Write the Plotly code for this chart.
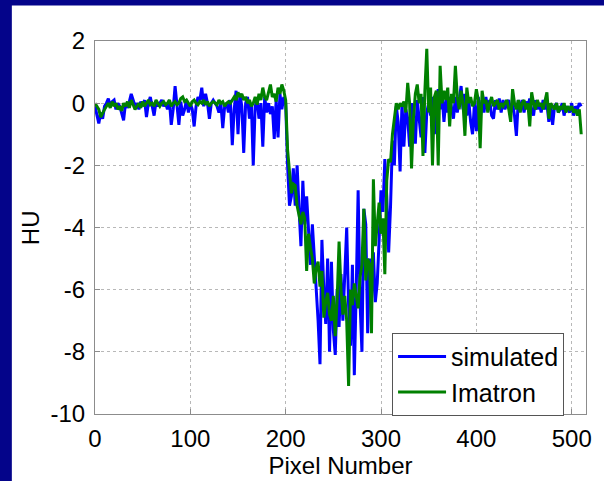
import plotly.graph_objects as go

# Pixel positions along the profile (every second pixel)
pixel = list(range(0, 512, 2))

# HU profile from the simulated reconstruction
simulated = [
    -0.1, -0.4, -0.65, -0.3, -0.5, -0.1, 0.0, 0.15, -0.1, 0.05,
    0.1, -0.2, 0.0, -0.1, -0.3, -0.55, 0.0, -0.15, 0.05, 0.3,
    0.1, -0.1, 0.0, -0.2, 0.05, -0.1, 0.1, -0.45, 0.0, 0.2,
    -0.1, -0.4, 0.05, -0.1, 0.0, 0.1, -0.1, 0.0, -0.2, 0.1,
    -0.7, -0.2, 0.55, -0.1, -0.7, 0.05, -0.4, -0.2, 0.1, -0.3,
    0.0, -0.2, -0.75, -0.1, 0.2, 0.1, 0.5, -0.1, 0.3, 0.0,
    -0.5, 0.0, 0.1, 0.0, -0.1, -0.3, 0.0, -0.8, -0.1, 0.0,
    -0.3, 0.1, -1.35, -0.2, 0.4, -1.0, 0.3, -0.1, -1.6, 0.0,
    0.2, -0.5, 0.0, -2.0, -0.1, 0.1, -0.5, 0.0, -1.4, 0.2,
    -0.3, 0.0, -0.35, -0.1, -1.15, 0.1, -1.1, 0.3, -0.2, 0.2,
    0.0, -2.0, -3.3, -3.0, -2.1, -3.3, -2.0, -3.4, -4.6, -2.5,
    -3.9, -3.0, -4.3, -5.2, -3.9, -5.0, -5.7, -7.0, -8.4, -4.4,
    -6.0, -7.1, -5.0, -8.0, -5.1, -7.3, -8.1, -6.0, -7.2, -5.5,
    -7.0, -5.6, -4.0, -6.5, -7.8, -5.2, -8.75, -6.0, -2.8, -6.4,
    -8.0, -3.4, -3.9, -7.4, -5.0, -6.3, -4.8, -6.4, -5.8, -4.4,
    -2.8, -3.5, -1.8, -3.0, -4.8, -3.3, -1.2, -2.0, -0.1, -0.6,
    -2.2, 0.0, -1.4, -0.2, -0.5, -1.4, 0.0, -0.7, -1.3, 0.1,
    -0.5, -1.1, 0.2, -1.6, -0.3, 0.0, -0.4, 0.2, -1.0, 0.1,
    0.45, -0.2, 0.3, -0.6, 0.1, -0.3, 0.2, -0.2, -0.5, 0.2,
    -0.3, 0.1, 0.55, -0.2, 0.3, -0.4, 0.1, -0.6, -1.0, 0.0,
    -0.9, 0.2, -0.5, 0.1, -0.3, 0.2, -0.2, 0.1, -0.4, -0.5,
    0.1, -0.2, 0.15, -0.3, 0.1, -0.2, 0.0, 0.1, -0.3, 0.0,
    -0.4, -1.05, 0.1, -0.2, 0.1, -0.3, 0.05, -0.1, 0.15, -0.2,
    -0.4, 0.1, -0.2, 0.0, -0.3, 0.1, -0.2, 0.0, -0.6, -0.1,
    -0.7, -0.1, 0.0, -0.3, -0.2, 0.0, -0.4, -0.1, -0.2, -0.3,
    0.0, -0.4, -0.1, -0.2, 0.0, -0.1,
]

# HU profile measured on the Imatron scanner
imatron = [
    0.0, -0.1, -0.2, -0.45, -0.3, -0.2, -0.1, 0.0, -0.15, 0.05,
    -0.1, 0.0, -0.2, -0.1, -0.25, 0.0, -0.1, 0.05, -0.15, 0.1,
    -0.05, -0.2, -0.1, 0.0, -0.15, 0.05, -0.1, 0.0, 0.1, -0.05,
    0.0, -0.1, 0.1, 0.0, -0.1, 0.0, 0.05, -0.05, 0.0, 0.1,
    -0.1, 0.0, 0.05, -0.05, 0.0, 0.15, 0.2, 0.05, 0.1, 0.0,
    -0.1, 0.05, 0.1, 0.0, -0.05, 0.05, 0.0, 0.1, -0.05, 0.05,
    -0.1, 0.0, 0.05, 0.0, -0.05, 0.1, 0.0, 0.05, -0.1, 0.0,
    0.05, 0.0, 0.1, 0.2, 0.1, 0.35, 0.2, 0.3, 0.1, 0.2,
    0.0, 0.1, -0.1, 0.0, 0.2, -0.05, 0.3, 0.1, 0.5, 0.2,
    0.1, 0.4, 0.6, 0.2, 0.3, 0.05, 0.5, 0.3, 0.6, 0.4,
    0.1, -1.5, -2.3, -2.9, -2.6, -2.65, -3.3, -3.6, -3.9, -3.5,
    -3.7, -5.4, -4.2, -4.65, -5.0, -5.8, -5.3, -5.1, -5.9, -5.4,
    -6.9, -6.4, -6.1, -6.8, -7.0, -6.2, -7.5, -6.3, -4.45, -6.0,
    -6.8, -6.2, -7.0, -9.1, -6.0, -6.5, -5.8, -6.2, -6.6, -5.6,
    -5.2, -3.4, -5.7, -5.0, -5.2, -7.4, -2.45, -4.6, -4.0, -3.2,
    -4.2, -3.7, -5.5, -2.5, -1.8, -1.9, -1.0, -0.4, 0.0, -0.2,
    0.0, -0.1, 0.05, -0.3, 0.65, 0.0, -2.1, -0.5, 0.3, 0.6,
    0.0, 0.3, -1.7, 0.4, 1.75, -0.3, 0.5, -2.0, 0.2, 0.4,
    -2.0, 1.2, 0.0, 0.4, 0.1, 0.5, -0.75, 0.3, 0.0, 1.2,
    0.2, -0.2, 0.4, 0.0, -1.05, 0.5, 0.0, 0.2, -0.1, 0.0,
    0.45, 0.1, -1.45, 0.4, 0.0, 0.1, -0.3, 0.0, 0.2, -0.1,
    0.0, 0.1, -0.2, 0.0, -0.1, 0.0, 0.1, -0.2, -0.6, 0.45,
    0.0, -0.2, 0.1, -0.3, 0.0, 0.1, -0.2, 0.0, -0.75, 0.35,
    0.0, -0.2, 0.1, -0.1, 0.0, -0.2, 0.05, 0.35, -0.5, 0.0,
    -0.1, -0.2, 0.0, -0.3, -0.1, -0.2, 0.0, -0.3, -0.1, -0.2,
    -0.1, -0.3, -0.2, -0.4, -0.2, -1.0,
]

x_ticks = [0, 100, 200, 300, 400, 500]
y_ticks = [2, 0, -2, -4, -6, -8, -10]
y_tick_labels = ["2", "0", "-2", "-4", "-6", "-8", "-10"]

FONT = "Liberation Sans, Arial, sans-serif"
NAVY = "#04048a"

fig = go.Figure()
fig.add_trace(go.Scatter(x=pixel, y=simulated, mode="lines", name="simulated",
                         line=dict(color="#0000ff", width=3)))
fig.add_trace(go.Scatter(x=pixel, y=imatron, mode="lines", name="Imatron",
                         line=dict(color="#008000", width=3)))

axis_common = dict(
    showline=True, linecolor="#8c8c8c", linewidth=1, mirror=True,
    ticks="inside", ticklen=5, tickcolor="#8c8c8c",
    showgrid=True, gridcolor="#b8b8b8", griddash="dot", gridwidth=1,
    zeroline=False, tickfont=dict(family=FONT, size=24, color="black"),
)

fig.update_layout(
    width=604, height=481,
    margin=dict(l=95, r=13, t=41, b=61),
    paper_bgcolor="white", plot_bgcolor="white",
    font=dict(family=FONT, color="black"),
    xaxis=dict(range=[0, 515], tickvals=x_ticks,
               title=dict(text="Pixel Number", font=dict(family=FONT, size=24), standoff=0),
               ticklabelstandoff=3, **axis_common),
    yaxis=dict(range=[-10, 2], tickvals=y_ticks, ticktext=y_tick_labels,
               ticklabelstandoff=4, **axis_common),
    legend=dict(x=0.605, y=0.218, xanchor="left", yanchor="top",
                bgcolor="white", bordercolor="#555555", borderwidth=1,
                font=dict(family=FONT, size=25), itemwidth=48, tracegroupgap=0),
    showlegend=True,
    annotations=[
        dict(text="HU", textangle=-90, xref="paper", yref="paper",
             x=(30 - 95) / 496, y=0.5, xanchor="center", yanchor="middle",
             showarrow=False, font=dict(family=FONT, size=24, color="black")),
    ],
    shapes=[
        dict(type="rect", xref="paper", yref="paper", layer="above",
             x0=-0.2, x1=(11 - 95) / 496, y0=-0.2, y1=1.2,
             fillcolor=NAVY, line=dict(width=0)),
        dict(type="rect", xref="paper", yref="paper", layer="above",
             x0=-0.2, x1=1.1, y0=1 + (41 - 5) / 379, y1=1.2,
             fillcolor=NAVY, line=dict(width=0)),
    ],
)

fig.write_html("out.html")
